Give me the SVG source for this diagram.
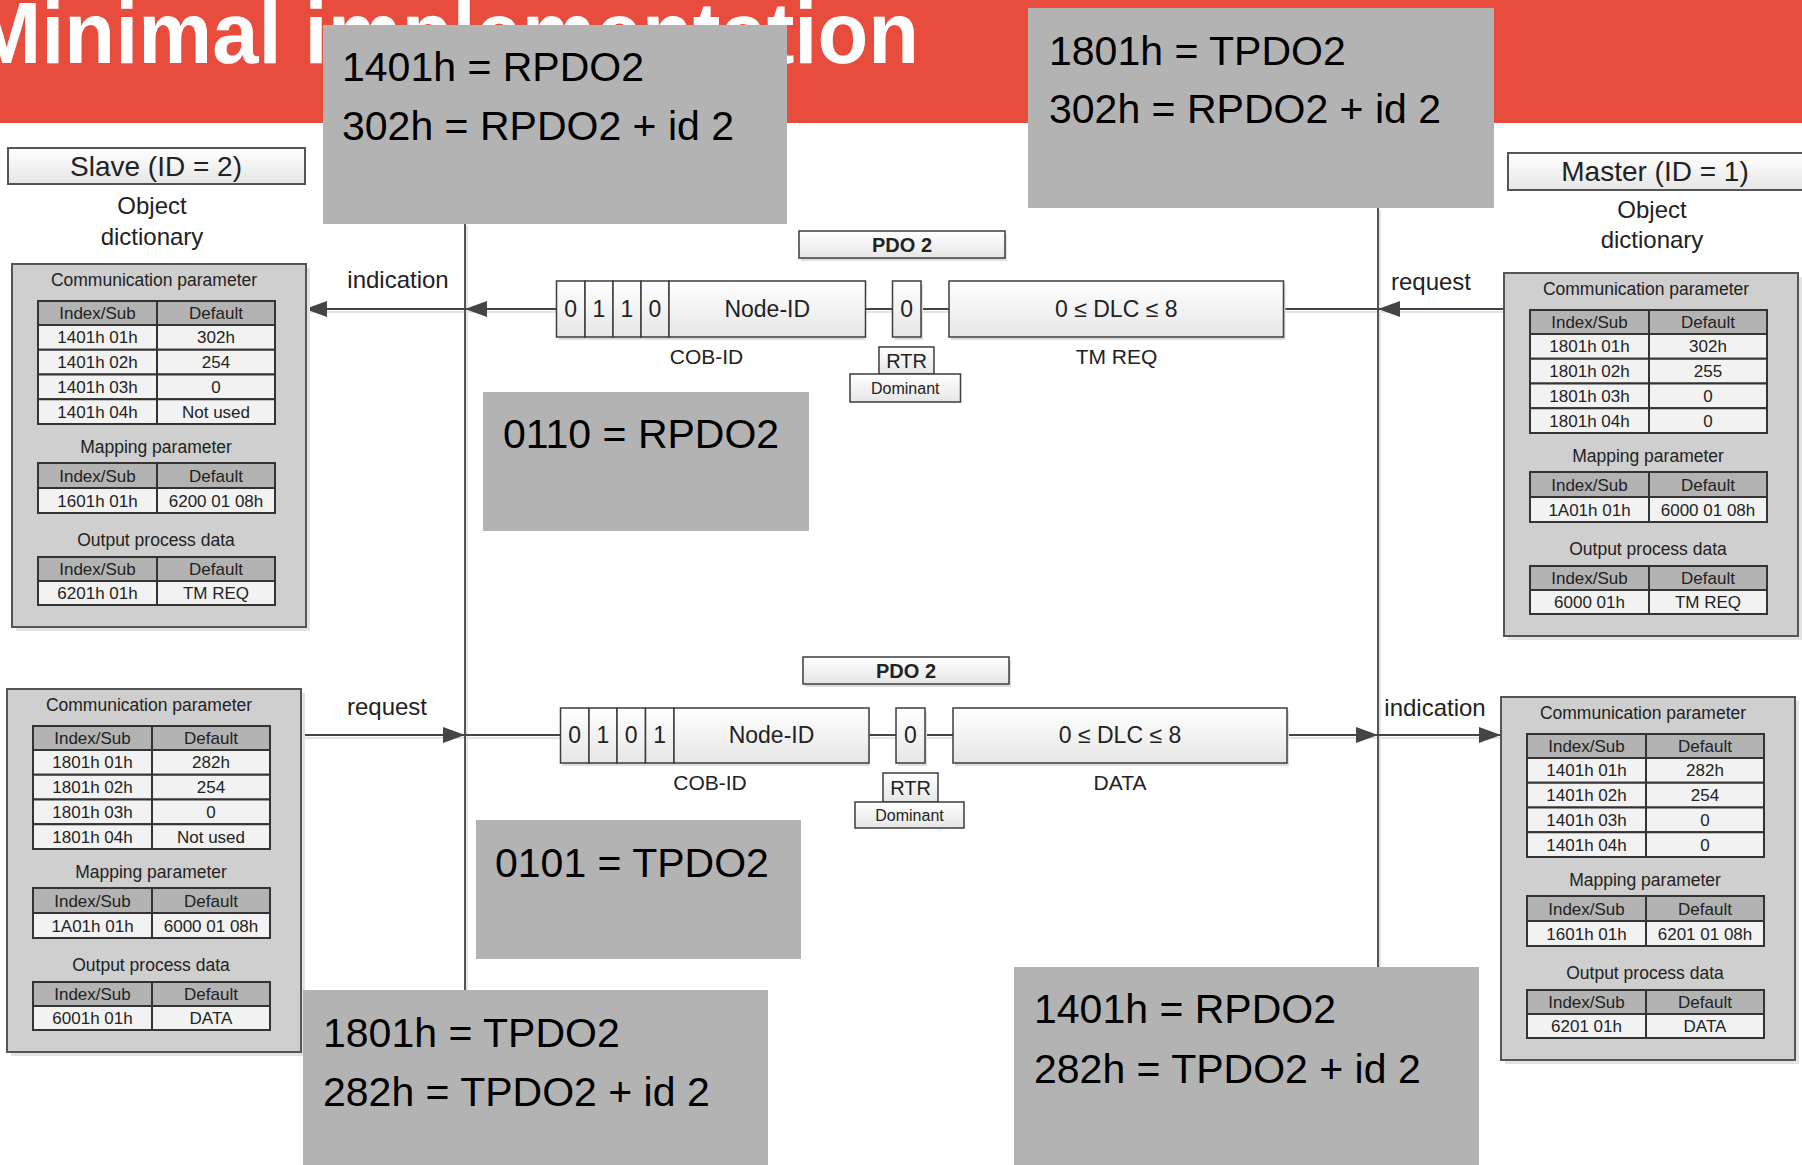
<svg xmlns="http://www.w3.org/2000/svg" width="1802" height="1165" viewBox="0 0 1802 1165">
<defs>
<style>
.t{font-family:"Liberation Sans",Arial,sans-serif;fill:#222}
.c{text-anchor:middle}
.title{font-family:"Liberation Sans",Arial,sans-serif;font-weight:bold;font-size:88px;fill:#fff}
.panel{fill:#CFCFCF;stroke:#555;stroke-width:2}
.pshd{fill:#E3E3E3}
.th{fill:#B3B3B3;stroke:#333;stroke-width:2}
.td{fill:#F2F2F2;stroke:#333;stroke-width:2}
.pt{font-size:17.5px}
.tt{font-size:17px}
.cell{fill:url(#cellg);stroke:#3c3c3c;stroke-width:1.5}
.cshd{fill:#DEDEDE}
.ft{font-size:23px}
.lb{font-size:21px}
.conn{stroke:#444;stroke-width:2;fill:none}
.bus{stroke:#555;stroke-width:2;fill:none}
.cs{stroke:#E4E4E4;stroke-width:2;fill:none}
.note{fill:#B3B3B3}
.nt{font-family:"Liberation Sans",Arial,sans-serif;font-size:41px;fill:#000}
</style>
<linearGradient id="cellg" x1="0" y1="0" x2="0" y2="1"><stop offset="0" stop-color="#FFFFFF"/><stop offset="1" stop-color="#E6E6E6"/></linearGradient>
<marker id="ah" viewBox="0 0 22 16" refX="22" refY="8" markerWidth="22" markerHeight="16" markerUnits="userSpaceOnUse" orient="auto"><path d="M0,0 L22,8 L0,16 z" fill="#444"/></marker>
</defs>
<rect width="1802" height="1165" fill="#fff"/>
<g id="header">
<rect x="0" y="0" width="1802" height="123" fill="#E84C3D"/>
<text class="title" x="-28" y="63" textLength="947" lengthAdjust="spacingAndGlyphs">Minimal implementation</text>
</g>

<g id="connectors">
<path class="cs" d="M467,226 V990 M1380,210 V967 M305,312 H556 M866,312 H893 M921,312 H949 M1284,312 H1504 M302,738 H560 M869,738 H896 M925,738 H953 M1287,738 H1501"/>
<path class="bus" d="M465,224 V990"/>
<path class="bus" d="M1378,208 V967"/>
<path class="conn" d="M556.5,309 H465" marker-end="url(#ah)"/>
<path class="conn" d="M465,309 H305" marker-end="url(#ah)"/>
<path class="conn" d="M866,309 H893.5 M921,309 H949 M1378,309 H1284"/>
<path class="conn" d="M1504,309 H1378" marker-end="url(#ah)"/>
<path class="conn" d="M302,735 H465" marker-end="url(#ah)"/>
<path class="conn" d="M465,735 H560.5 M869,735 H896 M925,735 H953"/>
<path class="conn" d="M1287,735 H1378" marker-end="url(#ah)"/>
<path class="conn" d="M1378,735 H1501" marker-end="url(#ah)"/>
<text class="t c" x="398" y="288" font-size="24">indication</text>
<text class="t c" x="1431" y="290" font-size="24">request</text>
<text class="t c" x="387" y="715" font-size="24">request</text>
<text class="t c" x="1435" y="716" font-size="24">indication</text>
</g>

<g id="slave-title">
<rect x="8" y="148" width="297" height="36" fill="url(#cellg)" stroke="#555" stroke-width="2"/>
<text class="t c" x="156" y="176" font-size="28">Slave (ID = 2)</text>
<text class="t c" x="152" y="214" font-size="24">Object</text>
<text class="t c" x="152" y="245" font-size="24">dictionary</text>
</g>
<g id="master-title">
<rect x="1508" y="153" width="300" height="37" fill="url(#cellg)" stroke="#555" stroke-width="2"/>
<text class="t c" x="1655" y="181" font-size="28">Master (ID = 1)</text>
<text class="t c" x="1652" y="218" font-size="24">Object</text>
<text class="t c" x="1652" y="248" font-size="24">dictionary</text>
</g>

<g id="slave-od-rx" transform="translate(12,264)">
<rect class="pshd" x="4" y="4" width="294" height="363"/>
<rect class="panel" width="294" height="363"/>
<text class="t c pt" x="142" y="22">Communication parameter</text>
<rect class="th" x="26" y="37" width="119" height="24"/><rect class="th" x="145" y="37" width="118" height="24"/>
<rect class="td" x="26" y="61" width="119" height="24.75"/><rect class="td" x="145" y="61" width="118" height="24.75"/>
<rect class="td" x="26" y="85.75" width="119" height="24.75"/><rect class="td" x="145" y="85.75" width="118" height="24.75"/>
<rect class="td" x="26" y="110.5" width="119" height="24.75"/><rect class="td" x="145" y="110.5" width="118" height="24.75"/>
<rect class="td" x="26" y="135.25" width="119" height="24.75"/><rect class="td" x="145" y="135.25" width="118" height="24.75"/>
<text class="t c tt" x="85.5" y="55">Index/Sub</text><text class="t c tt" x="204" y="55">Default</text>
<text class="t c tt" x="85.5" y="79.4">1401h 01h</text><text class="t c tt" x="204" y="79.4">302h</text>
<text class="t c tt" x="85.5" y="104.1">1401h 02h</text><text class="t c tt" x="204" y="104.1">254</text>
<text class="t c tt" x="85.5" y="128.9">1401h 03h</text><text class="t c tt" x="204" y="128.9">0</text>
<text class="t c tt" x="85.5" y="153.6">1401h 04h</text><text class="t c tt" x="204" y="153.6">Not used</text>
<text class="t c pt" x="144" y="189">Mapping parameter</text>
<rect class="th" x="26" y="199" width="119" height="25"/><rect class="th" x="145" y="199" width="118" height="25"/>
<rect class="td" x="26" y="224" width="119" height="25"/><rect class="td" x="145" y="224" width="118" height="25"/>
<text class="t c tt" x="85.5" y="217.5">Index/Sub</text><text class="t c tt" x="204" y="217.5">Default</text>
<text class="t c tt" x="85.5" y="242.5">1601h 01h</text><text class="t c tt" x="204" y="242.5">6200 01 08h</text>
<text class="t c pt" x="144" y="282">Output process data</text>
<rect class="th" x="26" y="293" width="119" height="24"/><rect class="th" x="145" y="293" width="118" height="24"/>
<rect class="td" x="26" y="317" width="119" height="24"/><rect class="td" x="145" y="317" width="118" height="24"/>
<text class="t c tt" x="85.5" y="311">Index/Sub</text><text class="t c tt" x="204" y="311">Default</text>
<text class="t c tt" x="85.5" y="335">6201h 01h</text><text class="t c tt" x="204" y="335">TM REQ</text>
</g>

<g id="master-od-tx" transform="translate(1504,273)">
<rect class="pshd" x="4" y="4" width="294" height="363"/>
<rect class="panel" width="294" height="363"/>
<text class="t c pt" x="142" y="22">Communication parameter</text>
<rect class="th" x="26" y="37" width="119" height="24"/><rect class="th" x="145" y="37" width="118" height="24"/>
<rect class="td" x="26" y="61" width="119" height="24.75"/><rect class="td" x="145" y="61" width="118" height="24.75"/>
<rect class="td" x="26" y="85.75" width="119" height="24.75"/><rect class="td" x="145" y="85.75" width="118" height="24.75"/>
<rect class="td" x="26" y="110.5" width="119" height="24.75"/><rect class="td" x="145" y="110.5" width="118" height="24.75"/>
<rect class="td" x="26" y="135.25" width="119" height="24.75"/><rect class="td" x="145" y="135.25" width="118" height="24.75"/>
<text class="t c tt" x="85.5" y="55">Index/Sub</text><text class="t c tt" x="204" y="55">Default</text>
<text class="t c tt" x="85.5" y="79.4">1801h 01h</text><text class="t c tt" x="204" y="79.4">302h</text>
<text class="t c tt" x="85.5" y="104.1">1801h 02h</text><text class="t c tt" x="204" y="104.1">255</text>
<text class="t c tt" x="85.5" y="128.9">1801h 03h</text><text class="t c tt" x="204" y="128.9">0</text>
<text class="t c tt" x="85.5" y="153.6">1801h 04h</text><text class="t c tt" x="204" y="153.6">0</text>
<text class="t c pt" x="144" y="189">Mapping parameter</text>
<rect class="th" x="26" y="199" width="119" height="25"/><rect class="th" x="145" y="199" width="118" height="25"/>
<rect class="td" x="26" y="224" width="119" height="25"/><rect class="td" x="145" y="224" width="118" height="25"/>
<text class="t c tt" x="85.5" y="217.5">Index/Sub</text><text class="t c tt" x="204" y="217.5">Default</text>
<text class="t c tt" x="85.5" y="242.5">1A01h 01h</text><text class="t c tt" x="204" y="242.5">6000 01 08h</text>
<text class="t c pt" x="144" y="282">Output process data</text>
<rect class="th" x="26" y="293" width="119" height="24"/><rect class="th" x="145" y="293" width="118" height="24"/>
<rect class="td" x="26" y="317" width="119" height="24"/><rect class="td" x="145" y="317" width="118" height="24"/>
<text class="t c tt" x="85.5" y="311">Index/Sub</text><text class="t c tt" x="204" y="311">Default</text>
<text class="t c tt" x="85.5" y="335">6000 01h</text><text class="t c tt" x="204" y="335">TM REQ</text>
</g>

<g id="slave-od-tx" transform="translate(7,689)">
<rect class="pshd" x="4" y="4" width="294" height="363"/>
<rect class="panel" width="294" height="363"/>
<text class="t c pt" x="142" y="22">Communication parameter</text>
<rect class="th" x="26" y="37" width="119" height="24"/><rect class="th" x="145" y="37" width="118" height="24"/>
<rect class="td" x="26" y="61" width="119" height="24.75"/><rect class="td" x="145" y="61" width="118" height="24.75"/>
<rect class="td" x="26" y="85.75" width="119" height="24.75"/><rect class="td" x="145" y="85.75" width="118" height="24.75"/>
<rect class="td" x="26" y="110.5" width="119" height="24.75"/><rect class="td" x="145" y="110.5" width="118" height="24.75"/>
<rect class="td" x="26" y="135.25" width="119" height="24.75"/><rect class="td" x="145" y="135.25" width="118" height="24.75"/>
<text class="t c tt" x="85.5" y="55">Index/Sub</text><text class="t c tt" x="204" y="55">Default</text>
<text class="t c tt" x="85.5" y="79.4">1801h 01h</text><text class="t c tt" x="204" y="79.4">282h</text>
<text class="t c tt" x="85.5" y="104.1">1801h 02h</text><text class="t c tt" x="204" y="104.1">254</text>
<text class="t c tt" x="85.5" y="128.9">1801h 03h</text><text class="t c tt" x="204" y="128.9">0</text>
<text class="t c tt" x="85.5" y="153.6">1801h 04h</text><text class="t c tt" x="204" y="153.6">Not used</text>
<text class="t c pt" x="144" y="189">Mapping parameter</text>
<rect class="th" x="26" y="199" width="119" height="25"/><rect class="th" x="145" y="199" width="118" height="25"/>
<rect class="td" x="26" y="224" width="119" height="25"/><rect class="td" x="145" y="224" width="118" height="25"/>
<text class="t c tt" x="85.5" y="217.5">Index/Sub</text><text class="t c tt" x="204" y="217.5">Default</text>
<text class="t c tt" x="85.5" y="242.5">1A01h 01h</text><text class="t c tt" x="204" y="242.5">6000 01 08h</text>
<text class="t c pt" x="144" y="282">Output process data</text>
<rect class="th" x="26" y="293" width="119" height="24"/><rect class="th" x="145" y="293" width="118" height="24"/>
<rect class="td" x="26" y="317" width="119" height="24"/><rect class="td" x="145" y="317" width="118" height="24"/>
<text class="t c tt" x="85.5" y="311">Index/Sub</text><text class="t c tt" x="204" y="311">Default</text>
<text class="t c tt" x="85.5" y="335">6001h 01h</text><text class="t c tt" x="204" y="335">DATA</text>
</g>

<g id="master-od-rx" transform="translate(1501,697)">
<rect class="pshd" x="4" y="4" width="294" height="363"/>
<rect class="panel" width="294" height="363"/>
<text class="t c pt" x="142" y="22">Communication parameter</text>
<rect class="th" x="26" y="37" width="119" height="24"/><rect class="th" x="145" y="37" width="118" height="24"/>
<rect class="td" x="26" y="61" width="119" height="24.75"/><rect class="td" x="145" y="61" width="118" height="24.75"/>
<rect class="td" x="26" y="85.75" width="119" height="24.75"/><rect class="td" x="145" y="85.75" width="118" height="24.75"/>
<rect class="td" x="26" y="110.5" width="119" height="24.75"/><rect class="td" x="145" y="110.5" width="118" height="24.75"/>
<rect class="td" x="26" y="135.25" width="119" height="24.75"/><rect class="td" x="145" y="135.25" width="118" height="24.75"/>
<text class="t c tt" x="85.5" y="55">Index/Sub</text><text class="t c tt" x="204" y="55">Default</text>
<text class="t c tt" x="85.5" y="79.4">1401h 01h</text><text class="t c tt" x="204" y="79.4">282h</text>
<text class="t c tt" x="85.5" y="104.1">1401h 02h</text><text class="t c tt" x="204" y="104.1">254</text>
<text class="t c tt" x="85.5" y="128.9">1401h 03h</text><text class="t c tt" x="204" y="128.9">0</text>
<text class="t c tt" x="85.5" y="153.6">1401h 04h</text><text class="t c tt" x="204" y="153.6">0</text>
<text class="t c pt" x="144" y="189">Mapping parameter</text>
<rect class="th" x="26" y="199" width="119" height="25"/><rect class="th" x="145" y="199" width="118" height="25"/>
<rect class="td" x="26" y="224" width="119" height="25"/><rect class="td" x="145" y="224" width="118" height="25"/>
<text class="t c tt" x="85.5" y="217.5">Index/Sub</text><text class="t c tt" x="204" y="217.5">Default</text>
<text class="t c tt" x="85.5" y="242.5">1601h 01h</text><text class="t c tt" x="204" y="242.5">6201 01 08h</text>
<text class="t c pt" x="144" y="282">Output process data</text>
<rect class="th" x="26" y="293" width="119" height="24"/><rect class="th" x="145" y="293" width="118" height="24"/>
<rect class="td" x="26" y="317" width="119" height="24"/><rect class="td" x="145" y="317" width="118" height="24"/>
<text class="t c tt" x="85.5" y="311">Index/Sub</text><text class="t c tt" x="204" y="311">Default</text>
<text class="t c tt" x="85.5" y="335">6201 01h</text><text class="t c tt" x="204" y="335">DATA</text>
</g>

<g id="frame-rpdo" transform="translate(556.5,281)">
<rect class="cshd" x="244.5" y="-47" width="206" height="27"/>
<rect class="cell" x="242.5" y="-50" width="206" height="27"/>
<text class="t c" x="345.5" y="-29" font-size="20" font-weight="bold">PDO 2</text>
<rect class="cshd" x="2" y="3" width="307" height="56"/>
<rect class="cshd" x="338" y="3" width="28.5" height="56"/>
<rect class="cshd" x="394.5" y="3" width="334.5" height="56"/>
<rect class="cell" x="0" y="0" width="28.5" height="56"/>
<rect class="cell" x="28.5" y="0" width="28" height="56"/>
<rect class="cell" x="56.5" y="0" width="28" height="56"/>
<rect class="cell" x="84.5" y="0" width="28" height="56"/>
<rect class="cell" x="112.5" y="0" width="196.5" height="56"/>
<rect class="cell" x="336" y="0" width="28.5" height="56"/>
<rect class="cell" x="392.5" y="0" width="334.5" height="56"/>
<text class="t c ft" x="14.25" y="36">0</text>
<text class="t c ft" x="42.5" y="36">1</text>
<text class="t c ft" x="70.5" y="36">1</text>
<text class="t c ft" x="98.5" y="36">0</text>
<text class="t c ft" x="210.75" y="36">Node-ID</text>
<text class="t c ft" x="350.25" y="36">0</text>
<text class="t c ft" x="559.75" y="36">0 ≤ DLC ≤ 8</text>
<text class="t c lb" x="150" y="83">COB-ID</text>
<text class="t c lb" x="560" y="83">TM REQ</text>
<rect class="cell" x="322.5" y="66" width="55" height="27"/>
<text class="t c" x="350" y="87" font-size="20">RTR</text>
<rect class="cell" x="293.5" y="93" width="110.5" height="28"/>
<text class="t c" x="348.75" y="113" font-size="16">Dominant</text>
</g>

<g id="frame-tpdo" transform="translate(560.5,708)">
<rect class="cshd" x="244.5" y="-48" width="206" height="27"/>
<rect class="cell" x="242.5" y="-51" width="206" height="27"/>
<text class="t c" x="345.5" y="-30" font-size="20" font-weight="bold">PDO 2</text>
<rect class="cshd" x="2" y="3" width="307" height="55"/>
<rect class="cshd" x="338" y="3" width="28.5" height="55"/>
<rect class="cshd" x="394.5" y="3" width="334" height="55"/>
<rect class="cell" x="0" y="0" width="28.5" height="55"/>
<rect class="cell" x="28.5" y="0" width="28" height="55"/>
<rect class="cell" x="56.5" y="0" width="28.5" height="55"/>
<rect class="cell" x="85" y="0" width="28.5" height="55"/>
<rect class="cell" x="113.5" y="0" width="195" height="55"/>
<rect class="cell" x="335.5" y="0" width="29" height="55"/>
<rect class="cell" x="392.5" y="0" width="334" height="55"/>
<text class="t c ft" x="14.25" y="35">0</text>
<text class="t c ft" x="42.5" y="35">1</text>
<text class="t c ft" x="70.75" y="35">0</text>
<text class="t c ft" x="99.25" y="35">1</text>
<text class="t c ft" x="211" y="35">Node-ID</text>
<text class="t c ft" x="350" y="35">0</text>
<text class="t c ft" x="559.5" y="35">0 ≤ DLC ≤ 8</text>
<text class="t c lb" x="149.5" y="82">COB-ID</text>
<text class="t c lb" x="559.5" y="82">DATA</text>
<rect class="cell" x="322.5" y="65" width="55" height="29"/>
<text class="t c" x="350" y="87" font-size="20">RTR</text>
<rect class="cell" x="294.5" y="94" width="109" height="26"/>
<text class="t c" x="349" y="113" font-size="16">Dominant</text>
</g>

<g id="note-1401-rpdo2">
<rect class="note" x="323" y="25" width="464" height="199"/>
<text class="nt" x="342" y="81">1401h = RPDO2</text>
<text class="nt" x="342" y="140">302h = RPDO2 + id 2</text>
</g>
<g id="note-1801-tpdo2-top">
<rect class="note" x="1028" y="8" width="466" height="200"/>
<text class="nt" x="1049" y="65">1801h = TPDO2</text>
<text class="nt" x="1049" y="123">302h = RPDO2 + id 2</text>
</g>
<g id="note-0110">
<rect class="note" x="483" y="392" width="326" height="139"/>
<text class="nt" x="503" y="448">0110 = RPDO2</text>
</g>
<g id="note-0101">
<rect class="note" x="476" y="820" width="325" height="139"/>
<text class="nt" x="495" y="877">0101 = TPDO2</text>
</g>
<g id="note-1801-tpdo2-bottom">
<rect class="note" x="303" y="990" width="465" height="175"/>
<text class="nt" x="323" y="1047">1801h = TPDO2</text>
<text class="nt" x="323" y="1106">282h = TPDO2 + id 2</text>
</g>
<g id="note-1401-rpdo2-bottom">
<rect class="note" x="1014" y="967" width="465" height="198"/>
<text class="nt" x="1034" y="1023">1401h = RPDO2</text>
<text class="nt" x="1034" y="1083">282h = TPDO2 + id 2</text>
</g>
</svg>
